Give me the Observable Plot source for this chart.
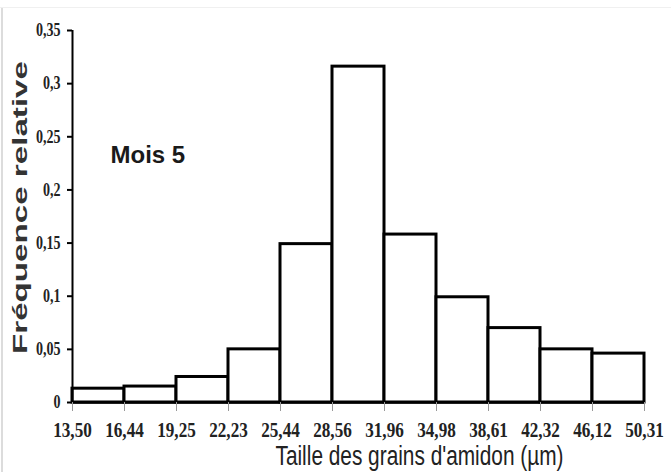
<!DOCTYPE html>
<html>
<head>
<meta charset="utf-8">
<script src="https://cdn.jsdelivr.net/npm/d3@7"></script>
<script src="https://cdn.jsdelivr.net/npm/@observablehq/plot@0.6"></script>
<style>
  html, body { margin: 0; padding: 0; background: #fff; }
  #wrap { position: relative; width: 671px; height: 472px; }
  #wrap::before { content: ""; position: absolute; left: 1px; top: 7px; bottom: 0; width: 2px; background: #dcdcdc; }
  #wrap::after { content: ""; position: absolute; left: 0; right: 0; top: 7px; height: 1px; background: #f0f0f0; }
</style>
</head>
<body>
<div id="wrap"></div>
<script>
// Bin edges (µm) — bars are drawn with equal widths, one per class
const edges = [13.50, 16.44, 19.25, 22.23, 25.44, 28.56, 31.96, 34.98, 38.61, 42.32, 46.12, 50.31];
// Relative frequency of each class
const freq = [0.013, 0.015, 0.024, 0.050, 0.149, 0.316, 0.158, 0.099, 0.070, 0.050, 0.046];
const yTicks = [0, 0.05, 0.1, 0.15, 0.2, 0.25, 0.3, 0.35];
const xTitle = "Taille des grains d'amidon (µm)";
const yTitle = "Fréquence relative";
const note = "Mois 5";

const bins = freq.map((f, i) => ({x1: i, x2: i + 1, y: f}));
const fr = v => String(v).replace(".", ",");

const plot = Plot.plot({
  width: 671,
  height: 472,
  marginLeft: 72,
  marginRight: 27,
  marginTop: 30,
  marginBottom: 70,
  x: {domain: [0, edges.length - 1], axis: null},
  y: {domain: [0, 0.35], axis: null},
  style: {background: "transparent", overflow: "visible"},
  marks: [
    Plot.rectY(bins, {x1: "x1", x2: "x2", y: "y", fill: "white", stroke: "black", strokeWidth: 3, inset: 0}),
    Plot.ruleY([0], {stroke: "black", strokeWidth: 2.5}),
    Plot.ruleX([0], {y1: 0, y2: 0.35, stroke: "black", strokeWidth: 2}),
    Plot.axisY({
      ticks: yTicks, tickSize: 5, tickPadding: 7, tickFormat: fr, label: null,
      fontSize: 18, fontWeight: "bold", fontFamily: "Liberation Serif", stroke: "black", strokeWidth: 2, fill: "#222"
    }),
    Plot.axisX({
      ticks: d3.range(edges.length), tickSize: 9, tickPadding: 10,
      tickFormat: i => edges[i].toFixed(2).replace(".", ","), label: null,
      fontSize: 22, fontWeight: "bold", fontFamily: "Liberation Serif", stroke: "#999", strokeWidth: 1, fill: "#222"
    }),
    Plot.text([yTitle], {
      frameAnchor: "left", rotate: -90, dx: -52, dy: -9, text: d => d,
      fontSize: 21, fontWeight: "bold", fontFamily: "Liberation Sans", fill: "#333",
      lineAnchor: "middle", textAnchor: "middle"
    }),
    Plot.text([xTitle], {
      frameAnchor: "bottom", dx: 61, dy: 54, text: d => d,
      fontSize: 27, fontFamily: "Liberation Sans Narrow, Liberation Sans", fill: "#222",
      lineAnchor: "middle", textAnchor: "middle"
    }),
    Plot.text([note], {
      frameAnchor: "top-left", dx: 38, dy: 115, text: d => d,
      fontSize: 24, fontWeight: "bold", fontFamily: "Liberation Sans", fill: "#1a1a1a",
      lineAnchor: "top", textAnchor: "start"
    })
  ]
});

const svg = d3.select(plot);
function squeeze(nodes, sx) {
  nodes.forEach(node => {
    const t = d3.select(node);
    let tr = t.attr("transform");
    if (!tr) {
      const x = +t.attr("x") || 0, y = +t.attr("y") || 0;
      tr = `translate(${x},${y})`;
      t.attr("x", null).attr("y", null);
    }
    t.attr("transform", tr + ` scale(${sx},1)`);
  });
}
const gs = svg.selectAll("g[aria-label]").nodes();
const byLabel = s => gs.filter(g => (g.getAttribute("aria-label") || "").includes(s));
byLabel("y-axis tick label").forEach(g => squeeze(Array.from(g.querySelectorAll("text")), 0.78));
byLabel("x-axis tick label").forEach(g => squeeze(Array.from(g.querySelectorAll("text")), 0.78));
const texts = gs.filter(g => g.getAttribute("aria-label") === "text");
if (texts[0]) texts[0].querySelectorAll("text").forEach(t => { t.setAttribute("textLength", 293); t.setAttribute("lengthAdjust", "spacingAndGlyphs"); });
if (texts[1]) texts[1].querySelectorAll("text").forEach(t => { t.setAttribute("textLength", 288); t.setAttribute("lengthAdjust", "spacingAndGlyphs"); });

document.getElementById("wrap").appendChild(plot);
</script>
</body>
</html>
